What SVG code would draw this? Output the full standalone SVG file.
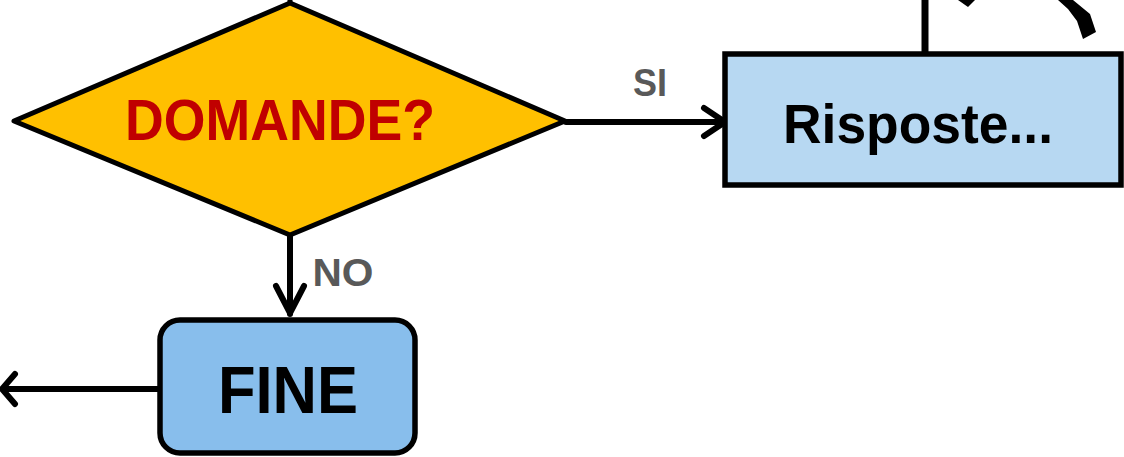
<svg xmlns="http://www.w3.org/2000/svg" width="1124" height="457" viewBox="0 0 1124 457">
<style>
.ln{fill:none;stroke:#000;stroke-width:6;stroke-linecap:round;stroke-linejoin:round}
.lbl{font-family:"Liberation Sans",Arial,sans-serif;font-weight:bold;fill:#595959}
.big{font-family:"Liberation Sans",Arial,sans-serif;font-weight:bold}
</style>
<rect width="1124" height="457" fill="#fff"/>
<g id="connectors">
  <line x1="290" y1="-10" x2="290" y2="4" stroke="#000" stroke-width="5"/>
  <line x1="925" y1="-10" x2="925" y2="55" stroke="#000" stroke-width="7"/>
  <path d="M958,0 L968,7 L975,0 Z" fill="#000"/>
  <path d="M1058,0 L1073,0 L1090,14 L1096,32 L1083,39 L1077,21 L1068,9 Z" fill="#000"/>
  <line class="ln" x1="566" y1="122" x2="725" y2="122"/>
  <polyline class="ln" points="704,108 725,122 704,136"/>
  <line class="ln" x1="290" y1="236" x2="290" y2="314"/>
  <polyline class="ln" points="276,286 290,313 304,286"/>
  <line class="ln" x1="160" y1="389" x2="3" y2="389"/>
  <polyline class="ln" points="15,374 2,389 15,404"/>
  <text class="lbl" x="650" y="96" font-size="38" text-anchor="middle" textLength="34" lengthAdjust="spacingAndGlyphs">SI</text>
  <text class="lbl" x="343" y="286" font-size="38" text-anchor="middle" textLength="61" lengthAdjust="spacingAndGlyphs">NO</text>
</g>
<g id="domande">
  <polygon points="14,121 290,3 565,121 290,235" fill="#FFC000" stroke="#000" stroke-width="5" stroke-linejoin="round"/>
  <text class="big" x="280" y="140" font-size="58" fill="#C00000" text-anchor="middle" textLength="310" lengthAdjust="spacingAndGlyphs">DOMANDE?</text>
</g>
<g id="risposte">
  <rect x="725" y="54" width="396" height="131" fill="#B7D8F2" stroke="#000" stroke-width="5.5"/>
  <text class="big" x="918" y="143" font-size="55" fill="#000" text-anchor="middle" textLength="270" lengthAdjust="spacingAndGlyphs">Risposte...</text>
</g>
<g id="fine">
  <rect x="160" y="320" width="255" height="133" rx="20" ry="20" fill="#88BEEC" stroke="#000" stroke-width="5.5"/>
  <text class="big" x="288" y="413" font-size="66" fill="#000" text-anchor="middle" textLength="140" lengthAdjust="spacingAndGlyphs">FINE</text>
</g>
</svg>
